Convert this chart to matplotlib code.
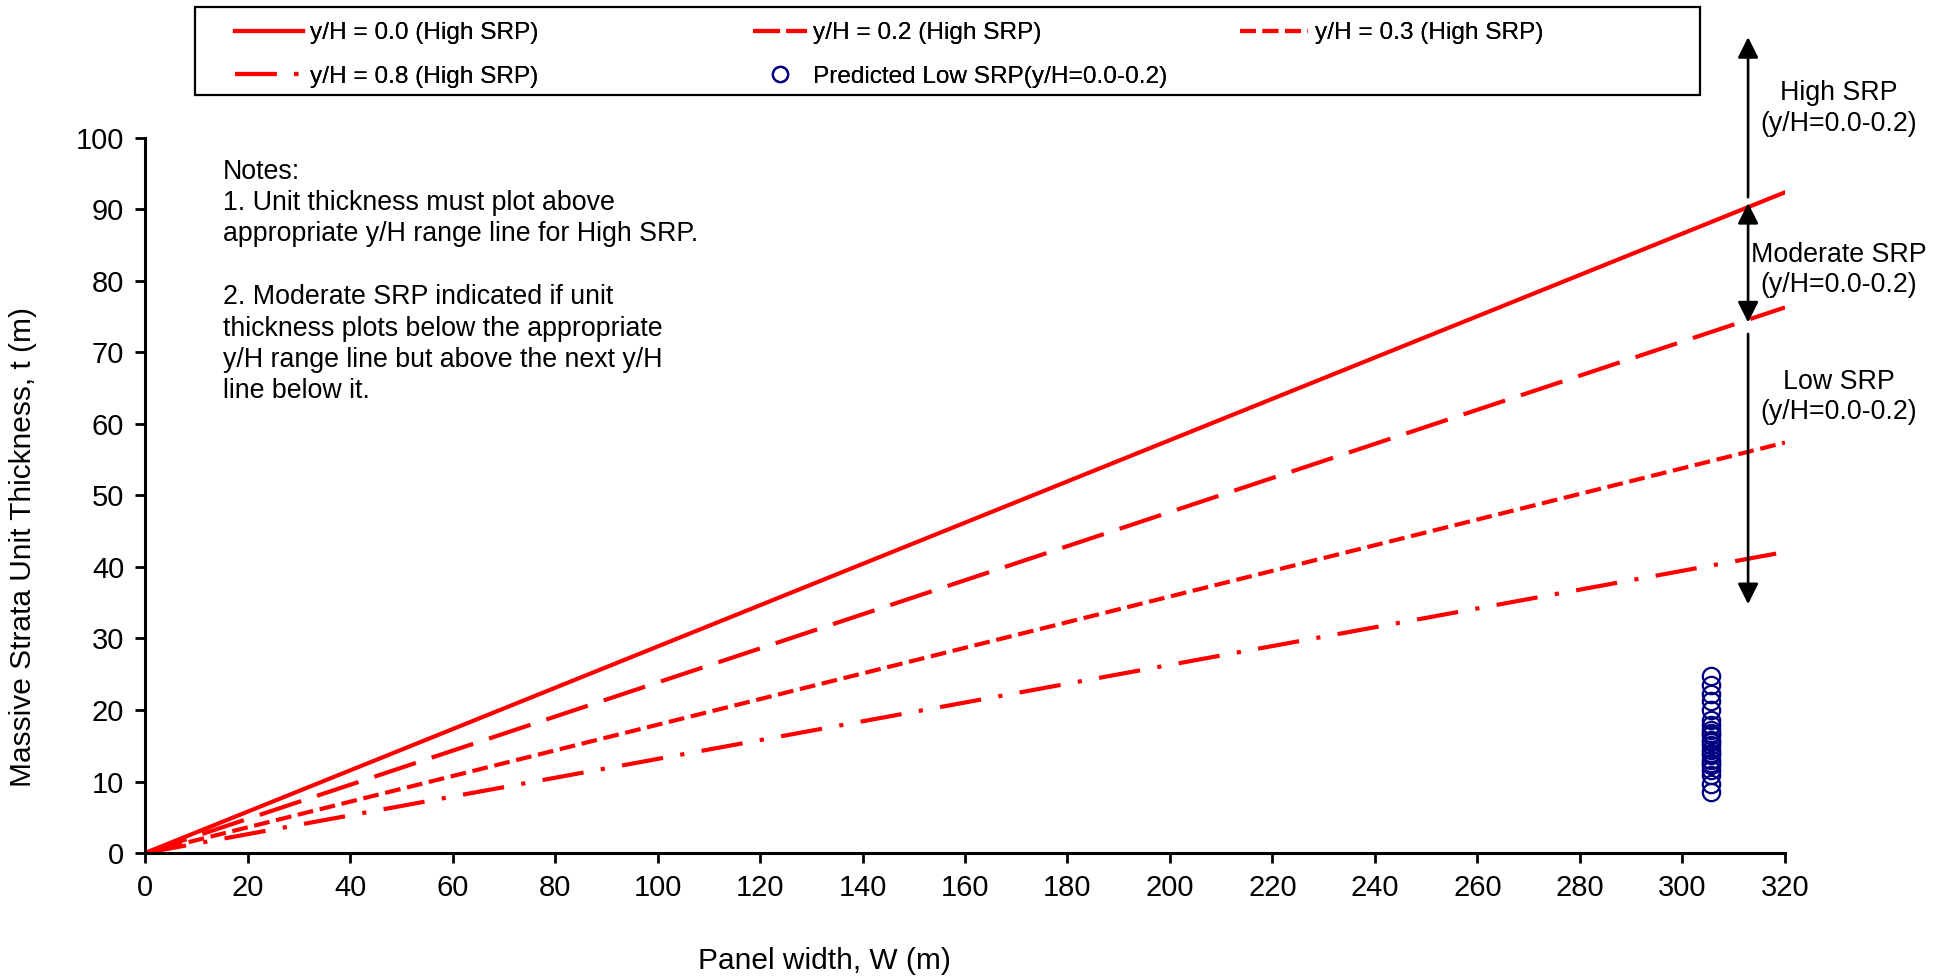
import matplotlib
matplotlib.use('Agg')
import matplotlib.pyplot as plt
from matplotlib.lines import Line2D
from matplotlib.patches import Rectangle

# design lines (panel width W vs massive unit thickness t)
line_w = [0, 320]
t_yh00 = [0, 92.4]
t_yh02 = [0, 76.3]
t_yh03 = [0, 57.4]
t_yh08 = [0, 42.1]
line_labels = ['y/H = 0.0 (High SRP)', 'y/H = 0.2 (High SRP)',
               'y/H = 0.3 (High SRP)', 'y/H = 0.8 (High SRP)']

# predicted low SRP points
pred_w = 305.6
pred_t = [24.7, 23.5, 22.3, 21.2, 20.0, 18.6, 17.9, 17.2, 16.8, 16.5, 15.8,
          15.5, 15.1, 14.4, 14.0, 13.7, 13.0, 12.6, 12.3, 11.6, 10.9, 9.7, 8.6]
pred_label = 'Predicted Low SRP(y/H=0.0-0.2)'

x_ticks = list(range(0, 321, 20))
y_ticks = list(range(0, 101, 10))

notes = ("Notes:\n"
         "1. Unit thickness must plot above\n"
         "appropriate y/H range line for High SRP.\n"
         "\n"
         "2. Moderate SRP indicated if unit\n"
         "thickness plots below the appropriate\n"
         "y/H range line but above the next y/H\n"
         "line below it.")

zone_labels = ['High SRP\n(y/H=0.0-0.2)', 'Moderate SRP\n(y/H=0.0-0.2)', 'Low SRP\n(y/H=0.0-0.2)']
zone_label_t = [104.1, 81.5, 63.8]
arrow_w = 312.8
# (start, end) of the three arrows, in t
high_arrow = (91.7, 114.1)
mod_arrow = (90.9, 74.2)
low_arrow = (72.6, 34.8)

RED = '#FF0000'
NAVY = '#000080'


def plot():
    plt.rcParams['font.family'] = ['Liberation Sans', 'DejaVu Sans']
    fig = plt.figure(figsize=(19.44, 9.77), dpi=100)
    ax = fig.add_axes([0.0746, 0.1269, 0.8436, 0.7319])

    lw = 3.0
    styles = ['-', (0, (10.5, 4)), (0, (3.8, 1.6)), (0, (10, 4.2, 1, 4.2))]
    series = [t_yh00, t_yh02, t_yh03, t_yh08]
    handles = []
    for t, ls, lab in zip(series, styles, line_labels):
        h, = ax.plot(line_w, t, color=RED, lw=lw, linestyle=ls, label=lab)
        handles.append(h)

    ax.plot([pred_w] * len(pred_t), pred_t, linestyle='none', marker='o', ms=12.5,
            mfc='none', mec=NAVY, mew=1.6, clip_on=False)
    pred_handle = Line2D([], [], linestyle='none', marker='o', ms=11,
                         mfc='none', mec=NAVY, mew=1.6)
    # the legend sample of the 0.2 line is short, so it gets a tighter dash
    yh02_handle = Line2D([], [], color=RED, lw=lw, linestyle=(0, (6.5, 1.5)))

    ax.set_xlim(0, 320)
    ax.set_ylim(0, 100)
    ax.set_xticks(x_ticks)
    ax.set_yticks(y_ticks)
    ax.tick_params(labelsize=21, length=7, width=2, pad=8, direction='out')
    for s in ['top', 'right']:
        ax.spines[s].set_visible(False)
    for s in ['left', 'bottom']:
        ax.spines[s].set_linewidth(2.2)

    ax.set_xlabel('Panel width, W (m)', fontsize=21.5)
    ax.set_ylabel('Massive Strata Unit Thickness, t (m)', fontsize=21.5)
    ax.xaxis.set_label_coords(0.414, -0.131)
    ax.yaxis.set_label_coords(-0.066, 0.428)

    ax.text(15.2, 97.1, notes, fontsize=19.3, ha='left', va='top', linespacing=1.27)

    # SRP zone arrows
    head = dict(color='black', lw=1.9, shrinkA=0, shrinkB=0, mutation_scale=25)
    ax.annotate('', xy=(arrow_w, high_arrow[1]), xytext=(arrow_w, high_arrow[0]),
                arrowprops=dict(arrowstyle='-|>,head_length=0.5,head_width=0.25', **head),
                annotation_clip=False)
    ax.annotate('', xy=(arrow_w, mod_arrow[1]), xytext=(arrow_w, mod_arrow[0]),
                arrowprops=dict(arrowstyle='<|-|>,head_length=0.5,head_width=0.25', **head),
                annotation_clip=False)
    ax.annotate('', xy=(arrow_w, low_arrow[1]), xytext=(arrow_w, low_arrow[0]),
                arrowprops=dict(arrowstyle='-|>,head_length=0.5,head_width=0.25', **head),
                annotation_clip=False)
    for lab, t in zip(zone_labels, zone_label_t):
        ax.text(330.5, t, lab, fontsize=19.3, ha='center', va='center',
                multialignment='center', linespacing=1.22)

    # legend: framed box with three columns laid out row by row
    fig.patches.append(Rectangle((0.1003, 0.9028), 0.7742, 0.0901, transform=fig.transFigure,
                                 fill=False, edgecolor='black', lw=1.6))
    columns = [([handles[0], handles[3]], [line_labels[0], line_labels[3]], 235, 2.8),
               ([yh02_handle, pred_handle], [line_labels[1], pred_label], 753, 2.2),
               ([handles[2]], [line_labels[2]], 1240, 2.8)]
    for hs, labs, xpx, hl in columns:
        leg = fig.legend(hs, labs, loc='upper left', bbox_to_anchor=(xpx / 1944, 1 - 22 / 977),
                         bbox_transform=fig.transFigure, frameon=False, fontsize=17.6,
                         borderpad=0, borderaxespad=0, handlelength=hl, handletextpad=0.25,
                         labelspacing=0.88)
        fig.add_artist(leg)

    fig.savefig('out.png', dpi=100)


def main():
    plot()


if __name__ == '__main__':
    main()
